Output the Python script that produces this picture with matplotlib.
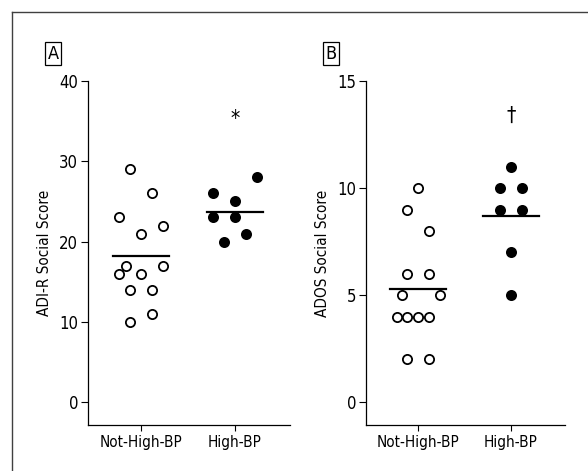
import numpy as np, matplotlib
matplotlib.use("Agg"); import matplotlib.pyplot as plt
from matplotlib.lines import Line2D

plt.rcParams['font.family'] = ['DejaVu Sans']
plt.rcParams['font.stretch'] = 'condensed'

GROUPS = ["Not-High-BP", "High-BP"]

# ---- panel A: ADI-R social score (value, horizontal slot within the column)
A_NOT  = [29, 26, 23, 21, 22, 17, 16, 16, 17, 14, 14, 10, 11]
A_NOT_SLOT = [-1, 1, -2, 0, 2, -1.4, -2, 0, 2, -1, 1, -1, 1]
A_HIGH = [26, 23, 25, 23, 20, 21, 28]
A_HIGH_SLOT = [-2, -2, 0, 0, -1, 1, 2]

# ---- panel B: ADOS social score
B_NOT  = [10, 9, 8, 6, 6, 5, 5, 4, 4, 4, 4, 2, 2]
B_NOT_SLOT = [0, -1, 1, -1, 1, -1.5, 2, -2, -1, 0, 1, -1, 1]
B_HIGH = [11, 10, 10, 9, 9, 7, 5]
B_HIGH_SLOT = [0, -1, 1, -1, 1, 0, 0]

SLOT = 0.117      # horizontal spacing of stacked points (category units)
HALF = 0.30       # half-width of the mean bar

def panel(ax, not_v, not_s, high_v, high_s, ylim, yticks, ylabel, mark, mark_y):
    for k, (v, s, filled) in enumerate([(not_v, not_s, False), (high_v, high_s, True)]):
        x = k + SLOT*np.asarray(s)
        ax.scatter(x, v, s=44, facecolor="k" if filled else "white",
                   edgecolor="k", linewidth=1.3, zorder=3, clip_on=False)
        m = np.mean(v)
        ax.plot([k-HALF, k+HALF], [m, m], color="k", lw=1.6, zorder=2)
    ax.text(1, mark_y, mark, ha="center", va="center", fontsize=15)
    ax.set_xlim(-0.564, 1.585)
    ax.set_ylim(*ylim)
    ax.set_yticks(yticks)
    ax.set_xticks([0, 1]); ax.set_xticklabels(GROUPS)
    for s in ("top", "right"): ax.spines[s].set_visible(False)
    for s in ("left", "bottom"): ax.spines[s].set_linewidth(0.9)
    ax.tick_params(axis="y", length=5, width=0.8, labelsize=12, pad=2)
    ax.tick_params(axis="x", length=4, width=0.8, labelsize=11, pad=3)
    ax.set_ylabel(ylabel, fontsize=11, labelpad=5)

fig = plt.figure(figsize=(5.88, 4.71), dpi=100)
axA = fig.add_axes([0.1497, 0.0977, 0.3435, 0.730])
axB = fig.add_axes([0.6224, 0.0977, 0.3386, 0.730])

panel(axA, A_NOT, A_NOT_SLOT, A_HIGH, A_HIGH_SLOT, (-2.87, 40), [0, 10, 20, 30, 40],
      "ADI-R Social Score", "*", 35.3)
panel(axB, B_NOT, B_NOT_SLOT, B_HIGH, B_HIGH_SLOT, (-1.07, 15), [0, 5, 10, 15],
      "ADOS Social Score", "\u2020", 13.4)

# outer frame (top and left rule)
fig.add_artist(Line2D([12/588, 1], [1-12/471, 1-12/471], color="0.25", lw=1.0))
fig.add_artist(Line2D([12/588, 12/588], [0, 1-12/471], color="0.25", lw=1.0))

for lab, x in [("A", 0.0901), ("B", 0.563)]:
    fig.text(x, 0.8864, lab, ha="center", va="center", fontsize=13,
             bbox=dict(boxstyle="square,pad=0.15", facecolor="white", edgecolor="k", lw=0.9))

fig.savefig("out.png", dpi=100)
